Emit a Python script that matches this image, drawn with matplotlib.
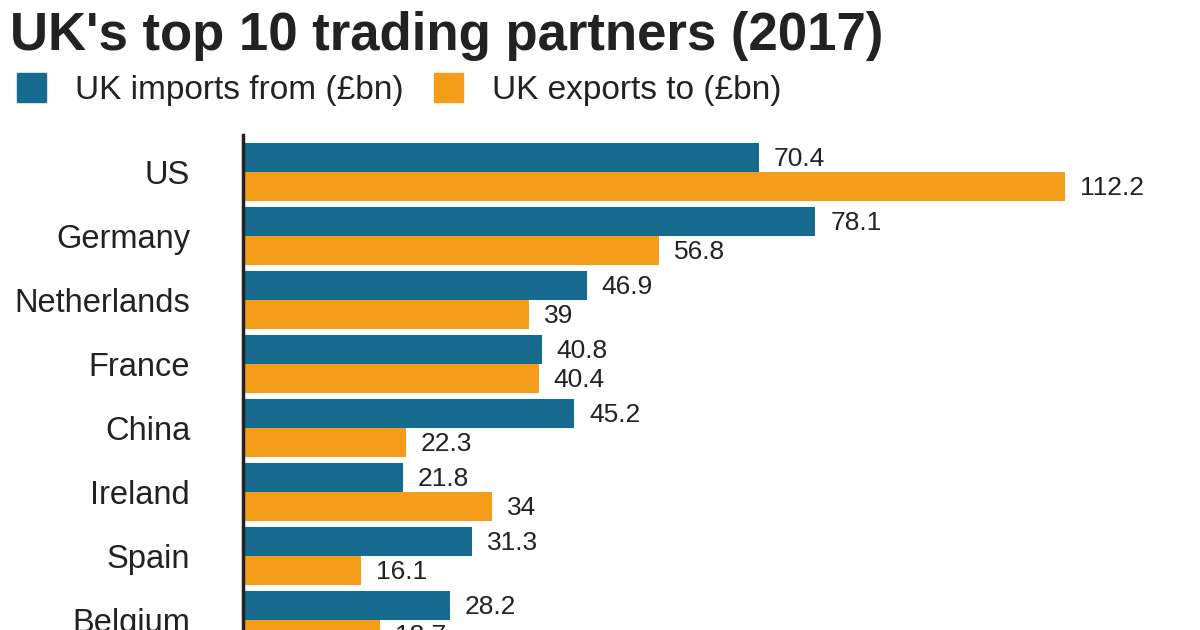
import numpy as np
import matplotlib.pyplot as plt
from matplotlib.patches import Rectangle

# Data (bottom rows are cropped in the original)
countries = ['US', 'Germany', 'Netherlands', 'France', 'China',
             'Ireland', 'Spain', 'Belgium']
importsFrom = [70.4, 78.1, 46.9, 40.8, 45.2, 21.8, 31.3, 28.2]
exportsTo = [112.2, 56.8, 39, 40.4, 22.3, 34, 16.1, 18.7]
importLabels = ['70.4', '78.1', '46.9', '40.8', '45.2', '21.8', '31.3', '28.2']
exportLabels = ['112.2', '56.8', '39', '40.4', '22.3', '34', '16.1', '18.7']

blue = '#176b8e'
orange = '#f59c1a'
textCol = '#222222'

plt.rcParams['font.family'] = ['Liberation Sans', 'DejaVu Sans']

W, H = 1200, 630
fig = plt.figure(figsize=(12, 6.3), dpi=100)

# axes: left spine at ~243px, top at 135px, runs off the bottom of the figure
ax = fig.add_axes([243 / W, 0, 1 - 243 / W, 495 / H])
y = np.arange(len(countries))
barH = 29 / 64
ax.barh(y - barH / 2, importsFrom, height=barH, color=blue, linewidth=0)
ax.barh(y + barH / 2, exportsTo, height=barH, color=orange, linewidth=0)

for i in range(len(countries)):
    ax.text(importsFrom[i] + 2.0, y[i] - barH / 2 + 0.03, importLabels[i],
            va='center', ha='left', fontsize=19, color=textCol)
    ax.text(exportsTo[i] + 2.0, y[i] + barH / 2 + 0.03, exportLabels[i],
            va='center', ha='left', fontsize=19, color=textCol)

ax.set_xlim(0, 957 / 7.33)
ax.set_ylim(7.156, -0.578)
ax.set_yticks(y)
ax.set_yticklabels(countries, fontsize=23.5, color=textCol)
ax.tick_params(axis='y', length=0, pad=38)
ax.set_xticks([])
for s in ['top', 'right', 'bottom']:
    ax.spines[s].set_visible(False)
ax.spines['left'].set_linewidth(2.5)
ax.spines['left'].set_color('#222222')

# title and legend
fig.text(10 / W, 1 - 50 / H, "UK's top 10 trading partners (2017)",
         fontsize=38, fontweight='bold', color=textCol, va='baseline', ha='left')
fig.patches.append(Rectangle((17 / W, 1 - 102 / H), 29 / W, 29 / H,
                             transform=fig.transFigure, color=blue))
fig.text(75 / W, 1 - 99 / H, 'UK imports from (£bn)', fontsize=24,
         color=textCol, va='baseline', ha='left')
fig.patches.append(Rectangle((434 / W, 1 - 102 / H), 29 / W, 29 / H,
                             transform=fig.transFigure, color=orange))
fig.text(492 / W, 1 - 99 / H, 'UK exports to (£bn)', fontsize=24,
         color=textCol, va='baseline', ha='left')

fig.savefig('out.png', dpi=100)
